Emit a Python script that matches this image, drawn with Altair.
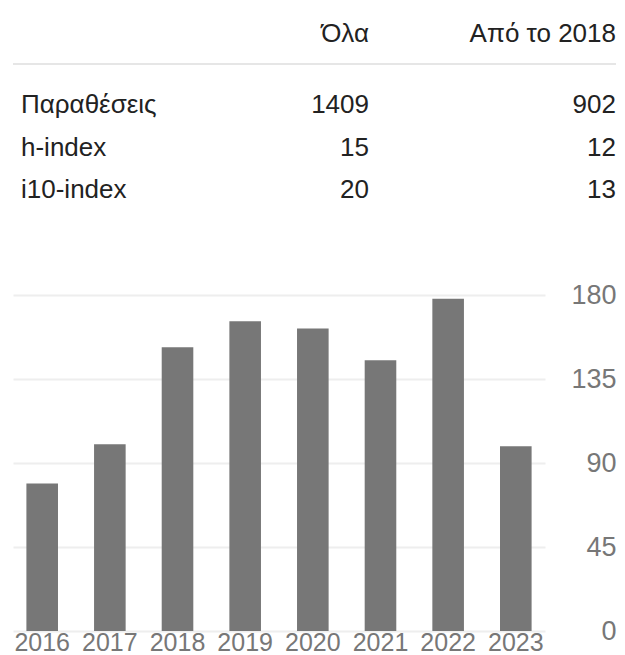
import altair as alt
import pandas as pd

# ---- data ----
years = ["2016", "2017", "2018", "2019", "2020", "2021", "2022", "2023"]
citations = [79, 100, 152, 166, 162, 145, 178, 99]

row_labels = ["Παραθέσεις", "h-index", "i10-index"]
col_all = ["1409", "15", "20"]
col_since = ["902", "12", "13"]
header_all = "Όλα"
header_since = "Από το 2018"
y_ticks = [0, 45, 90, 135, 180]

FONT = "Liberation Sans, Arial"

# ---- table data (row index 0 = header; col index 0 label, 1 all, 2 since) ----
cells = []
for i, (lab, a, s) in enumerate(zip(row_labels, col_all, col_since), start=1):
    cells.append({"r": i, "c": 0, "text": lab})
    cells.append({"r": i, "c": 1, "text": a})
    cells.append({"r": i, "c": 2, "text": s})
cells.append({"r": 0, "c": 1, "text": header_all})
cells.append({"r": 0, "c": 2, "text": header_since})
tdf = pd.DataFrame(cells)

xs = alt.Scale(domain=[0, 1, 2], range=[8, 356, 603], zero=False, nice=False)
ys = alt.Scale(domain=[0, 1, 2, 3], range=[34, 105, 148, 190], zero=False, nice=False)

base_t = alt.Chart(tdf).encode(
    x=alt.X("c:Q", scale=xs, axis=None),
    y=alt.Y("r:Q", scale=ys, axis=None),
    text="text:N",
)
t_left = base_t.transform_filter(alt.datum.c == 0).mark_text(
    align="left", baseline="alphabetic", font=FONT, fontSize=26, color="#222222"
)
t_right = base_t.transform_filter(alt.datum.c != 0).mark_text(
    align="right", baseline="alphabetic", font=FONT, fontSize=26, color="#222222"
)
sep = alt.Chart(tdf).mark_rule(color="#e6e6e6", strokeWidth=2).encode(
    x=alt.value(0), x2=alt.value(603), y=alt.value(56)
)
table = alt.layer(sep, t_left, t_right).properties(width=532, height=287)

# ---- bar chart ----
bdf = pd.DataFrame({"year": years, "cites": citations})
bars = alt.Chart(bdf).mark_bar(color="#777777").encode(
    x=alt.X(
        "year:O",
        sort=years,
        scale=alt.Scale(paddingInner=0.533, paddingOuter=0.198),
        axis=alt.Axis(
            title=None, domain=False, ticks=False, labelAngle=0,
            labelFont=FONT, labelFontSize=25, labelColor="#777777",
            labelPadding=19, labelBaseline="alphabetic",
        ),
    ),
    y=alt.Y(
        "cites:Q",
        scale=alt.Scale(domain=[0, 180], nice=False),
        axis=alt.Axis(
            title=None, orient="right", values=y_ticks, domain=False, ticks=False,
            grid=True, gridColor="#eeeeee", gridWidth=2,
            labelFont=FONT, labelFontSize=27, labelColor="#777777",
            labelAlign="right", labelBaseline="middle", labelPadding=71,
        ),
    ),
).properties(width=532, height=336)

chart = alt.vconcat(table, bars, spacing=0, bounds="flush").properties(
    padding={"left": 4, "top": 0, "right": 0, "bottom": 0}
).configure_view(stroke=None)

chart.save("out.html", embed_options={"renderer": "svg", "actions": False})
